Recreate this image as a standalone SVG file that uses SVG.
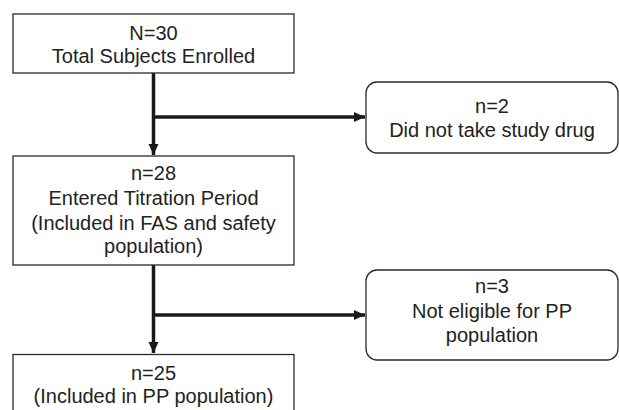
<svg xmlns="http://www.w3.org/2000/svg" width="619" height="410" viewBox="0 0 619 410">
<style>
.box{fill:#fff;stroke:#2a2a2a;stroke-width:1.3}
.t{font-family:"Liberation Sans",Arial,sans-serif;font-size:20px;fill:#222;text-anchor:middle}
.c{fill:none;stroke:#1a1a1a;stroke-width:3.5}
</style>
<defs>
<marker id="ah" markerUnits="userSpaceOnUse" markerWidth="12" markerHeight="12" refX="11" refY="6" orient="auto">
<path d="M0,1 L11,6 L0,11 Z" fill="#1a1a1a"/>
</marker>
</defs>
<rect width="619" height="410" fill="#fff"/>
<g id="connectors">
<line class="c" x1="153.5" y1="73" x2="153.5" y2="155" marker-end="url(#ah)"/>
<line class="c" x1="153.5" y1="117" x2="365" y2="117" marker-end="url(#ah)"/>
<line class="c" x1="153.5" y1="265" x2="153.5" y2="353" marker-end="url(#ah)"/>
<line class="c" x1="153.5" y1="315" x2="365" y2="315" marker-end="url(#ah)"/>
</g>
<g id="enrolled">
<rect class="box" x="13" y="14" width="281" height="59"/>
<text class="t" x="153.5" y="39.5">N=30</text>
<text class="t" x="153.5" y="63">Total Subjects Enrolled</text>
</g>
<g id="nodrug">
<rect class="box" x="366" y="82" width="252" height="71" rx="11"/>
<text class="t" x="492" y="113">n=2</text>
<text class="t" x="492" y="137">Did not take study drug</text>
</g>
<g id="titration">
<rect class="box" x="13" y="156" width="281" height="109"/>
<text class="t" x="153.5" y="180">n=28</text>
<text class="t" x="153.5" y="205">Entered Titration Period</text>
<text class="t" x="153.5" y="229.5">(Included in FAS and safety</text>
<text class="t" x="153.5" y="253">population)</text>
</g>
<g id="noteligible">
<rect class="box" x="366" y="270" width="252" height="90" rx="11"/>
<text class="t" x="492" y="293">n=3</text>
<text class="t" x="492" y="318">Not eligible for PP</text>
<text class="t" x="492" y="342">population</text>
</g>
<g id="pp">
<rect class="box" x="13" y="354.5" width="281" height="70"/>
<text class="t" x="153.5" y="380">n=25</text>
<text class="t" x="153.5" y="403">(Included in PP population)</text>
</g>
</svg>
